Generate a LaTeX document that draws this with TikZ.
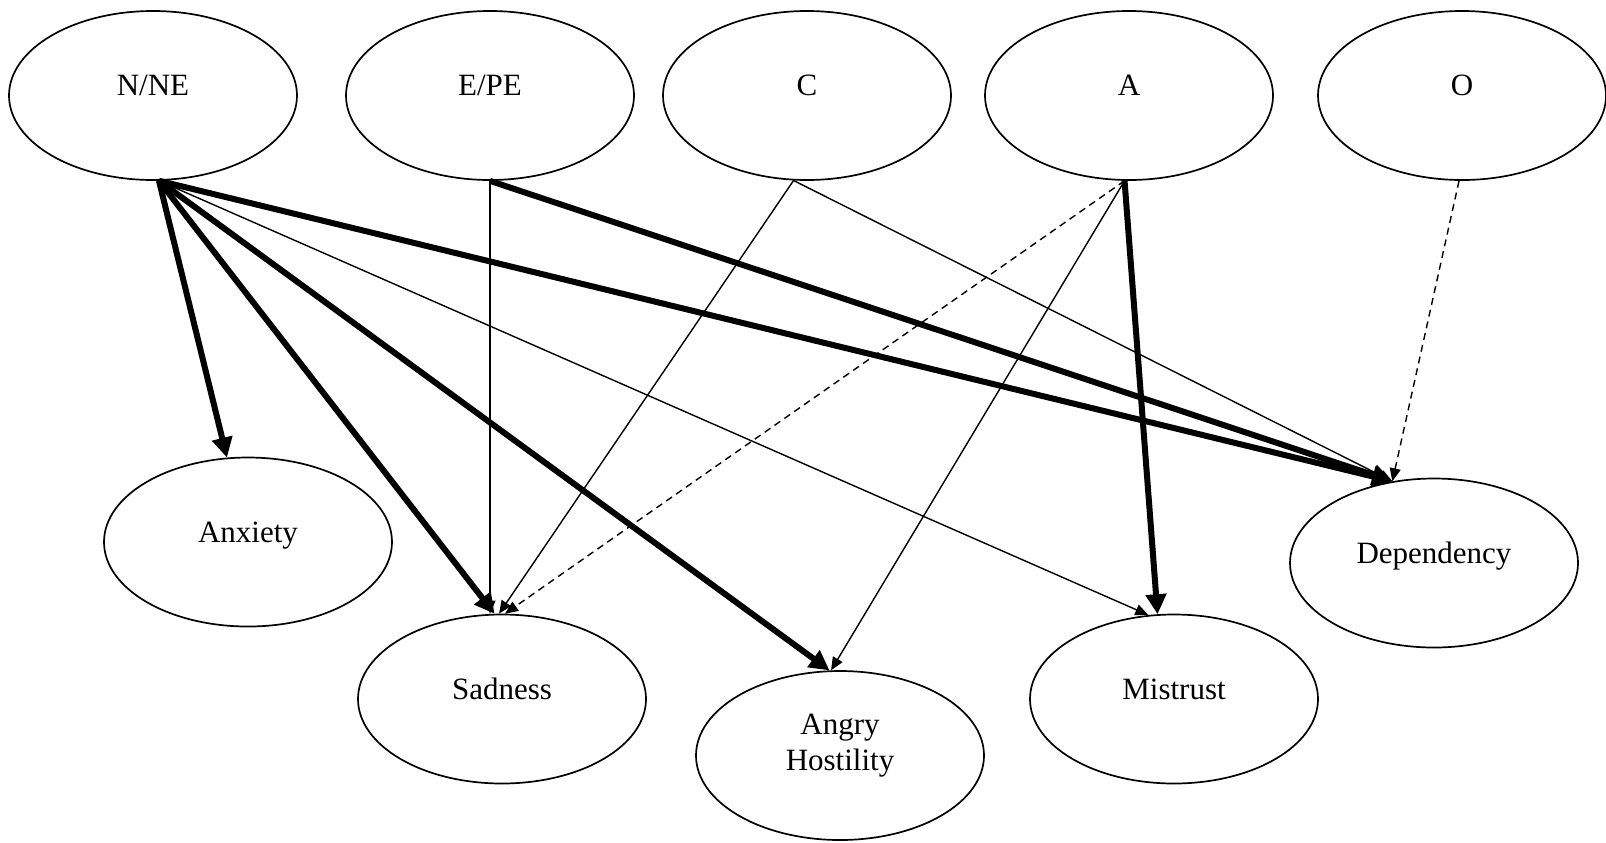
\documentclass[tikz,border=0pt]{standalone}
\usepackage{fontspec}
\setmainfont{Liberation Serif}
\usetikzlibrary{shapes.geometric,arrows.meta}

\begin{document}
\begin{tikzpicture}[x=0.5pt, y=-0.5pt,
	trait/.style={ellipse, draw, line width=0.85pt, minimum width=144pt, minimum height=84.5pt,
		font=\fontsize{15.5pt}{18pt}\selectfont, text height=0pt, text depth=0pt},
	strong/.style={line width=3pt, -{Triangle[length=10pt,width=10pt]}},
	weak/.style={line width=0.7pt, -{Triangle[length=6.5pt,width=5.5pt]}},
	neg/.style={weak, dash pattern=on 3.5pt off 2.5pt}]
	\useasboundingbox (0,0) rectangle (1606,842);
	% Place nodes
	\node [trait] (N) at (153,95.5) {N/NE};
	\node [trait] (E) at (490,95.5) {E/PE};
	\node [trait] (C) at (807,95.5) {C};
	\node [trait] (A) at (1129,95.5) {A};
	\node [trait] (O) at (1462,95.5) {O};
	\node [trait] (Anx) at (248,542) {Anxiety};
	\node [trait] (Sad) at (502,699) {Sadness};
	\node [trait, align=center, text height=, text depth=13.4pt] (Ang) at (840,755.5) {Angry\\Hostility};
	\node [trait] (Mis) at (1174,699) {Mistrust};
	\node [trait] (Dep) at (1434,563) {Dependency};
	% Draw edges
	\draw [strong] (N.274) -- (Anx.104);
	\draw [strong] (N.274) -- (Sad.95);
	\draw [strong] (N.274) -- (Ang.97);
	\draw [weak] (N.274) -- (Mis.107);
	\draw [strong] (N.274) -- (Dep.117);
	\draw [weak] (E.south) -- (E.south |- Sad.north);
	\draw [strong] (E.south) -- (Dep.117);
	\draw [weak] (C.261) -- (Sad.92);
	\draw [weak] (C.261) -- (Dep.117);
	\draw [neg] (A.267) -- (Sad.88);
	\draw [weak] (A.267) -- (Ang.96);
	\draw [strong] (A.267) -- (Mis.101);
	\draw [neg] (O.268) -- (Dep.117);
\end{tikzpicture}
\end{document}
